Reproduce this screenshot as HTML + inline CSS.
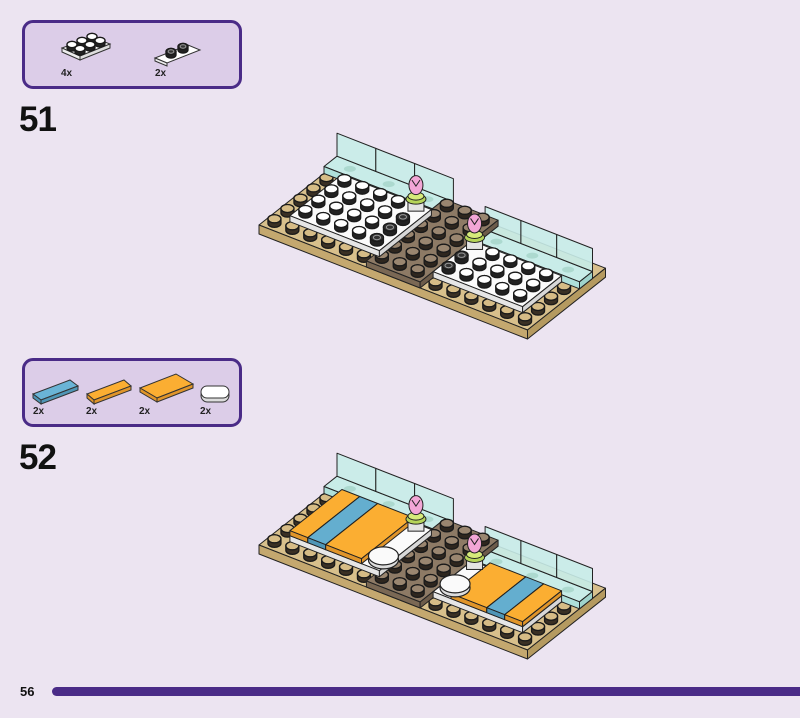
<!DOCTYPE html>
<html><head><meta charset="utf-8">
<style>
html,body{margin:0;padding:0;}
body{width:800px;height:718px;background:#ece4f1;position:relative;overflow:hidden;font-family:"Liberation Sans",sans-serif;}
.box{position:absolute;left:22px;width:214px;height:63px;border:3px solid #4a2b87;border-radius:11px;background:#dccde8;}
.num{position:absolute;left:19px;font-weight:bold;font-size:35px;color:#111;letter-spacing:-1px;}
.lbl{position:absolute;font-size:10px;font-weight:bold;color:#222;}
.bar{position:absolute;left:52px;top:687px;width:760px;height:9px;border-radius:5px;background:#4a2b87;}
svg{position:absolute;left:0;top:0;}
</style></head><body>
<div class="box" style="top:20px"></div>
<div class="box" style="top:358px"></div>
<div class="num" style="top:100px">51</div>
<div class="num" style="top:438px">52</div>
<div class="lbl" style="left:61px;top:68px">4x</div>
<div class="lbl" style="left:155px;top:68px">2x</div>
<div class="lbl" style="left:33px;top:406px">2x</div>
<div class="lbl" style="left:86px;top:406px">2x</div>
<div class="lbl" style="left:139px;top:406px">2x</div>
<div class="lbl" style="left:200px;top:406px">2x</div>
<div style="position:absolute;left:20px;top:684px;font-size:13px;font-weight:bold;color:#111">56</div>
<div class="bar"></div>
<svg id="s" width="800" height="718" viewBox="0 0 800 718"></svg>
<script>
const S=document.getElementById('s');let out='';
function poly(pts,fill,sw){out+=`<polygon points="${pts.map(p=>p[0].toFixed(1)+','+p[1].toFixed(1)).join(' ')}" fill="${fill}" stroke="#222" stroke-width="${sw||1}" stroke-linejoin="round"/>`;}
function stud(x,y,top,side,hollow,r){
 r=r||6.5;const ry=r*0.62,hh=r*0.7;
 out+=`<path d="M${x-r},${y} L${x-r},${y-hh} A${r} ${ry} 0 0 1 ${x+r},${y-hh} L${x+r},${y} A${r} ${ry} 0 0 1 ${x-r},${y} Z" fill="${side}" stroke="#1a1a1a" stroke-width="1.3"/>`;
 out+=`<ellipse cx="${x}" cy="${y-hh}" rx="${r}" ry="${ry}" fill="${top}" stroke="#1a1a1a" stroke-width="1.3"/>`;
 if(hollow) out+=`<ellipse cx="${x}" cy="${y-hh}" rx="${r*0.55}" ry="${ry*0.55}" fill="none" stroke="#999" stroke-width="1"/>`;
}
function model(ox,oy,step){
 const P=(i,j,h)=>[ox+17.9*i+13*j, oy+7*i-10.3*j-(h||0)];
 function box(i0,i1,j0,j1,h0,h1,top,side,side2){
  poly([P(i0,j0,h1),P(i1,j0,h1),P(i1,j1,h1),P(i0,j1,h1)],top);
  poly([P(i0,j0,h1),P(i1,j0,h1),P(i1,j0,h0),P(i0,j0,h0)],side);
  poly([P(i1,j0,h1),P(i1,j1,h1),P(i1,j1,h0),P(i1,j0,h0)],side2||side);
 }
 function studs(i0,i1,j0,j1,h,top,side,skip,hol){
  let arr=[];
  for(let i=i0;i<i1;i++)for(let j=j0;j<j1;j++){
   if(skip&&skip(i,j))continue;
   const c=P(i+0.5,j+0.5,h);arr.push([c,hol&&hol(i,j)]);}
  arr.sort((a,b)=>a[0][1]-b[0][1]);
  arr.forEach(a=>stud(a[0][0],a[0][1],a[1]?'#333':top,a[1]?'#222':side,a[1]));
 }
 box(0,15,0,6,-9,0,'#d8c08c','#c4a86f','#b59a60');
 const covered=(i,j)=>(i>=1&&i<6&&j>=1&&j<5)||(i>=6&&i<9&&j>=0)||(i>=9&&i<14&&j>=1&&j<4)||(j>=5&&i<6)||(j>=4&&i>=9);
 studs(0,15,0,6,0,'#d6bc86','#3a3024',covered);
 function panels(i0,i1,j,n){
  box(i0,i1,j-1,j,0,7,'#c8ece8','#aee0da','#9fd3cc');
  const w=(i1-i0)/n;
  for(let k=0;k<n;k++){const a=i0+k*w,b=a+w;
   poly([P(a,j,30),P(b,j,30),P(b,j,7),P(a,j,7)],'rgba(200,236,232,0.9)');}
  for(let k=0;k<n;k++){const c=P(i0+(k+0.5)*w,j-0.5,7);out+=`<ellipse cx="${c[0]}" cy="${c[1]}" rx="6" ry="3" fill="#9fd2c4" opacity="0.7"/>`;}
 }
 panels(0,6.5,6,3);
 panels(9,15,5,3);
 box(6,9,0,6,0,6,'#8d7a65','#7a6854','#6d5c4a');
 studs(6,9,0,6,6,'#9a8670','#2e261e');
 box(1,6,1,5,0,6,'#fbfbfb','#e6e6e6','#d8d8d8');
 box(9,14,1,4,0,6,'#fbfbfb','#e6e6e6','#d8d8d8');
 if(step===51){
  studs(1,6,1,5,6,'#fff','#222',(i,j)=>i===5&&j===4,(i,j)=>i===5);
  studs(9,14,1,4,6,'#fff','#222',(i,j)=>i===9&&j===3,(i,j)=>i===9);
 }else{
  box(1,2,1,5,6,11,'#fbae32','#e0952a');
  box(2,3,1,5,6,11,'#64aecf','#4f96b6');
  box(3,5,1,5,6,11,'#fbae32','#e0952a');
  box(10,12,1,4,6,11,'#fbae32','#e0952a');
  box(12,13,1,4,6,11,'#64aecf','#4f96b6');
  box(13,14,1,4,6,11,'#fbae32','#e0952a');
  const pil=(c)=>{out+=`<ellipse cx="${c[0]}" cy="${c[1]+3}" rx="15" ry="9" fill="#ddd" stroke="#222" stroke-width="1.2"/><ellipse cx="${c[0]}" cy="${c[1]-1}" rx="15" ry="9" fill="#fafafa" stroke="#222" stroke-width="1.2"/>`;};
  pil(P(5.5,2,6));pil(P(9.5,2,6));
 }
 function flower(c){const x=c[0],y=c[1];
  out+=`<rect x="${x-8}" y="${y-10}" width="16" height="10" fill="#e4e4e4" stroke="#222"/>`;
  out+=`<ellipse cx="${x}" cy="${y-12}" rx="10" ry="5" fill="#b6d55a" stroke="#222"/>`;
  out+=`<ellipse cx="${x}" cy="${y-15}" rx="8" ry="4" fill="#d6ea7a" stroke="#222"/>`;
  out+=`<ellipse cx="${x}" cy="${y-26}" rx="7" ry="9.5" fill="#f2a6d6" stroke="#222"/>`;
  out+=`<path d="M${x-4},${y-31} L${x},${y-25} L${x+4},${y-31}" fill="none" stroke="#222"/>`;}
 flower(P(5.5,4.5,6));flower(P(9.5,3.5,6));
}
model(259,225,51);
model(259,545,52);
out+=`<polygon points="62,48 92,37 110,44 80,56" fill="#fff" stroke="#333"/><polygon points="62,48 80,56 80,60 62,52" fill="#eee" stroke="#333"/><polygon points="80,56 110,44 110,48 80,60" fill="#ddd" stroke="#333"/>`;
[[72,46],[82,42],[92,38],[80,50],[90,46],[100,42]].forEach(p=>stud(p[0],p[1]+2,'#fff','#222',0,5));
out+=`<polygon points="155,58 188,45 200,50 167,63" fill="#fff" stroke="#333"/><polygon points="155,58 167,63 167,66 155,61" fill="#eee" stroke="#333"/>`;
stud(171,55,'#333','#222',1,5);stud(183,50,'#333','#222',1,5);
out+=`<polygon points="33,394 70,380 78,386 41,400" fill="#6ab4d6" stroke="#333"/><polygon points="33,394 41,400 41,404 33,398" fill="#4f96b6" stroke="#333"/><polygon points="41,400 78,386 78,390 41,404" fill="#4f96b6" stroke="#333"/>`;
out+=`<polygon points="87,394 124,380 131,386 94,400" fill="#fbae32" stroke="#333"/><polygon points="94,400 131,386 131,390 94,404" fill="#e0952a" stroke="#333"/><polygon points="87,394 94,400 94,404 87,398" fill="#e0952a" stroke="#333"/>`;
out+=`<polygon points="140,388 176,374 193,384 157,398" fill="#fbae32" stroke="#333"/><polygon points="157,398 193,384 193,388 157,402" fill="#e0952a" stroke="#333"/><polygon points="140,388 157,398 157,402 140,392" fill="#e0952a" stroke="#333"/>`;
out+=`<rect x="201" y="389" width="28" height="13" rx="6.5" fill="#ddd" stroke="#333"/><rect x="201" y="386" width="28" height="12" rx="6" fill="#fff" stroke="#333"/>`;
S.innerHTML=out;
</script>
</body></html>
